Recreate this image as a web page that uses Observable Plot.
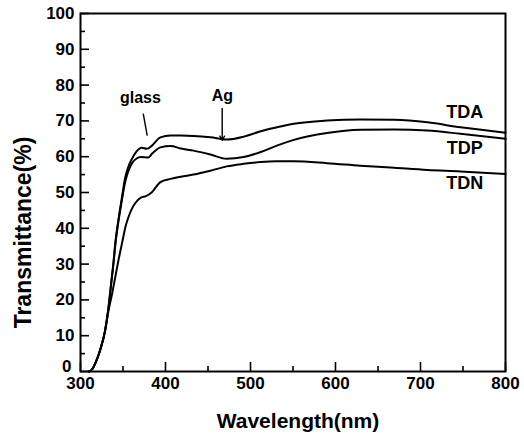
<!DOCTYPE html>
<html>
<head>
<meta charset="utf-8">
<script src="https://cdn.jsdelivr.net/npm/d3@7"></script>
<script src="https://cdn.jsdelivr.net/npm/@observablehq/plot@0.6"></script>
<style>
  body { margin: 0; background: #fff; }
  #chart svg { display: block; }
</style>
</head>
<body>
<div id="chart"></div>
<script>
// ---- data ----
const seriesNames = ["TDA", "TDP", "TDN"];

const tdaWl = [310, 314, 318, 323.5, 329, 331, 333, 336, 339, 341, 345, 349, 352, 356, 361, 366, 372, 378, 384, 394, 406, 418, 433, 453, 472, 492, 512, 531, 551, 590, 629, 669, 708, 747, 800];
const tdaT  = [0, 0.7, 2.6, 6.3, 11.5, 14.5, 18, 24.5, 31, 36, 43, 49, 53.5, 57, 59.6, 61.5, 62.5, 62.2, 63.1, 65.4, 65.9, 65.9, 65.8, 65.4, 64.8, 65.6, 67.1, 68.2, 69.2, 70.1, 70.4, 70.3, 69.6, 68.2, 66.7];

const tdpWl = [310, 314, 318, 323.5, 329, 331, 333, 336, 339, 341, 345, 349, 352, 356, 361, 366, 371, 380, 384, 394, 406, 418, 433, 453, 472, 492, 512, 531, 551, 590, 629, 669, 708, 747, 800];
const tdpT  = [0, 0.7, 2.6, 6.3, 11.5, 14.5, 18, 24.3, 30.6, 35.5, 42.5, 48.3, 52.3, 55.8, 58.3, 59.5, 59.9, 59.8, 60.8, 62.6, 63.0, 62.3, 61.7, 60.6, 59.4, 59.9, 61.3, 63.1, 64.7, 66.6, 67.5, 67.6, 67.3, 66.4, 65.0];

const tdnWl = [310, 314, 318, 323.5, 329, 331, 333, 337, 341, 345, 349, 353, 357, 361, 365, 371, 377, 384, 394, 406, 418, 433, 453, 472, 492, 512, 531, 551, 590, 629, 669, 708, 747, 800];
const tdnT  = [0, 0.7, 2.6, 6.3, 11.5, 14.3, 17, 21.5, 26.5, 31.5, 36, 40.5, 43.5, 45.7, 47.2, 48.6, 49, 50.1, 52.9, 53.8, 54.4, 55.0, 56.1, 57.3, 58.0, 58.5, 58.7, 58.7, 58.2, 57.5, 56.9, 56.3, 55.9, 55.2];

const xMajor = [300, 400, 500, 600, 700, 800];
const xMinor = [350, 450, 550, 650, 750];
const yMajor = [0, 10, 20, 30, 40, 50, 60, 70, 80, 90, 100];
const yMinor = [5, 15, 25, 35, 45, 55, 65, 75, 85, 95];
const yLabelsUpper = [10, 20, 30, 40, 50, 60, 70, 80, 90, 100];
const yLabelsZero = [0];

// series end labels
const labelNames = ["TDA", "TDP", "TDN"];
const labelWl = [752, 752, 752];
const labelT = [70.7, 60.8, 51.0];

// annotations
const noteText = ["glass", "Ag"];
const noteWl = [370.5, 467];
const noteT = [75, 75.5];
const glassLine = {x1: 373.8, y1: 72, x2: 378.5, y2: 65.9};
const agArrow = {x1: 466.7, y1: 73.5, x2: 466.7, y2: 64.6};

// ---- build rows ----
const wls = [tdaWl, tdpWl, tdnWl];
const vals = [tdaT, tdpT, tdnT];
const rows = [];
seriesNames.forEach((s, i) => wls[i].forEach((w, j) => rows.push({series: s, wl: w, t: vals[i][j]})));
const labels = labelNames.map((n, i) => ({name: n, wl: labelWl[i], t: labelT[i]}));
const notes = noteText.map((n, i) => ({name: n, wl: noteWl[i], t: noteT[i]}));

const font = "'Liberation Sans', Arial, Helvetica, sans-serif";

const chart = Plot.plot({
  width: 524,
  height: 435,
  marginLeft: 80,
  marginRight: 19,
  marginTop: 13,
  marginBottom: 64,
  style: {fontFamily: font, fontWeight: "bold", background: "#fff", color: "#000", overflow: "visible"},
  x: {domain: [300, 800]},
  y: {domain: [0, 100]},
  marks: [
    // tick labels
    Plot.axisX(xMajor, {tickSize: 0, tickPadding: 5, fontSize: 17, fontWeight: "bold", label: null}),
    Plot.axisY(yLabelsUpper, {tickSize: 0, tickPadding: 6, fontSize: 17, fontWeight: "bold", label: null}),
    Plot.axisY(yLabelsZero, {tickSize: 0, tickPadding: 9, dy: -5, fontSize: 17, fontWeight: "bold", label: null}),
    // inward ticks
    Plot.axisX(xMajor, {tickSize: -9, tickFormat: () => "", label: null, strokeWidth: 1.6}),
    Plot.axisX(xMinor, {tickSize: -5, tickFormat: () => "", label: null, strokeWidth: 1.6}),
    Plot.axisY(yMajor, {tickSize: -9, tickFormat: () => "", label: null, strokeWidth: 1.6}),
    Plot.axisY(yMinor, {tickSize: -5, tickFormat: () => "", label: null, strokeWidth: 1.6}),
    Plot.frame({strokeWidth: 2}),
    // curves
    Plot.line(rows, {x: "wl", y: "t", z: "series", stroke: "#000", strokeWidth: 2, curve: "monotone-x"}),
    // series labels
    Plot.text(labels, {x: "wl", y: "t", text: "name", fontSize: 18, fontWeight: "bold", lineAnchor: "bottom", fill: "#000"}),
    // annotations
    Plot.text(notes, {x: "wl", y: "t", text: "name", fontSize: 16, fontWeight: "bold", lineAnchor: "bottom", fill: "#000"}),
    Plot.link([glassLine], {x1: "x1", y1: "y1", x2: "x2", y2: "y2", stroke: "#000", strokeWidth: 1.4}),
    Plot.arrow([agArrow], {x1: "x1", y1: "y1", x2: "x2", y2: "y2", stroke: "#000", strokeWidth: 1.4, headLength: 5}),
    // axis titles
    Plot.text(["Wavelength(nm)"], {frameAnchor: "bottom", dx: 5, dy: 56, lineAnchor: "bottom", textAnchor: "middle", fontSize: 21, fontWeight: "bold", fill: "#000"}),
    Plot.text(["Transmittance(%)"], {frameAnchor: "left", dx: -57, dy: 40, rotate: -90, textAnchor: "middle", lineAnchor: "middle", fontSize: 23, fontWeight: "bold", fill: "#000"})
  ]
});

document.getElementById("chart").appendChild(chart);
</script>
</body>
</html>
